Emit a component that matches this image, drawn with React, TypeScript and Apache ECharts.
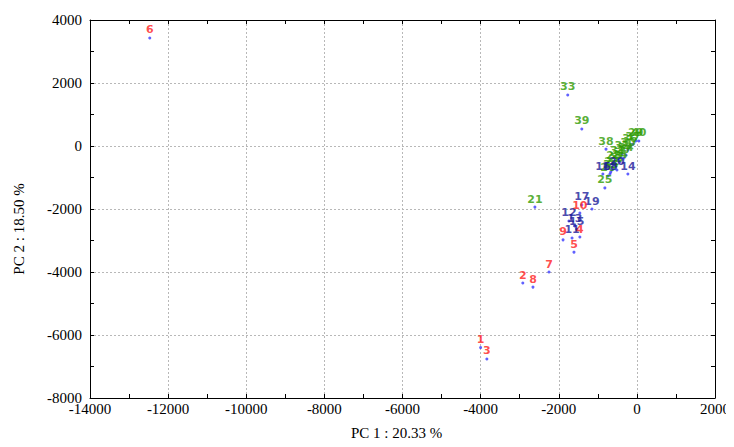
import React, { useEffect, useRef } from "react";
import * as echarts from "echarts";

// Samples 1-10 (red)
const redIds = ["1", "2", "3", "4", "5", "6", "7", "8", "9", "10"];
const redPC1 = [-4000, -2920, -3840, -1460, -1610, -12470, -2250, -2660, -1890, -1460];
const redPC2 = [-6400, -4350, -6760, -2890, -3370, 3430, -4000, -4480, -2980, -2130];

// Samples 11-20 (blue)
const blueIds = ["11", "12", "13", "14", "15", "16", "17", "18", "19", "20"];
const bluePC1 = [-1660, -1740, -1590, -230, -1540, -870, -1410, -690, -1150, -510];
const bluePC2 = [-2920, -2380, -2540, -890, -2640, -890, -1870, -890, -2000, -760];

// Samples 21-40 (green)
const greenIds = ["21", "22", "23", "24", "25", "26", "27", "28", "29", "30",
  "31", "32", "33", "34", "35", "36", "37", "38", "39", "40"];
const greenPC1 = [-2610, -640, -540, -435, -820, -740, -330, -590, -30, -230,
  -490, -380, -1770, -280, -670, -180, -100, -790, -1410, 50];
const greenPC2 = [-1940, -760, -635, -510, -1330, -950, -380, -570, 160, -130,
  -410, -250, 1620, -290, -830, -30, 60, -100, 540, 160];

const xTicks = { min: -14000, max: 2000, step: 2000 };
const yTicks = { min: -8000, max: 4000, step: 2000 };

function build(ids: string[], xs: number[], ys: number[]) {
  return ids.map((id, i) => ({ value: [xs[i], ys[i]], name: id }));
}

export default function App() {
  const ref = useRef<HTMLDivElement>(null);
  useEffect(() => {
    if (!ref.current) return;
    const chart = echarts.init(ref.current, undefined, { renderer: "svg" });
    const serif = "'Liberation Serif', 'Times New Roman', serif";
    const labelFont = "'DejaVu Sans', Verdana, sans-serif";
    const plain = (v: number) => String(v);
    const gridLine = { show: true, lineStyle: { color: "#b8b8b8", type: [2, 2], width: 1, opacity: 1 } };
    const common = {
      axisLine: { show: true, onZero: false, lineStyle: { color: "#000", width: 1 } },
      axisTick: { show: true, inside: true, length: 4, lineStyle: { color: "#000" } },
      minorTick: { show: true, splitNumber: 2, length: 4, lineStyle: { color: "#000" } },
    };
    const mkSeries = (name: string, data: any[], color: string) => ({
      name,
      type: "scatter",
      symbolSize: 3,
      itemStyle: { color: "#3a3aff" },
      data,
      z: 3,
      label: {
        show: true,
        position: "top",
        distance: 1,
        formatter: "{b}",
        color,
        fontFamily: labelFont,
        fontSize: 11,
        fontWeight: "bold",
      },
    });
    chart.setOption({
      animation: false,
      grid: { left: 90, right: 19, top: 20, bottom: 49 },
      xAxis: [
        {
          type: "value",
          position: "bottom",
          min: xTicks.min,
          max: xTicks.max,
          interval: xTicks.step,
          name: "PC 1 : 20.33 %",
          nameLocation: "middle",
          nameGap: 27,
          nameTextStyle: { color: "#000", fontFamily: serif, fontSize: 15, padding: [0, 12, 0, 0] },
          ...common,
          splitLine: gridLine,
          axisLabel: { color: "#000", fontFamily: serif, fontSize: 15, margin: 3, formatter: plain },
        },
        {
          type: "value",
          position: "top",
          min: xTicks.min,
          max: xTicks.max,
          interval: xTicks.step,
          ...common,
          splitLine: { show: false },
          axisLabel: { show: false },
        },
      ],
      yAxis: [
        {
          type: "value",
          position: "left",
          min: yTicks.min,
          max: yTicks.max,
          interval: yTicks.step,
          name: "PC 2 : 18.50 %",
          nameLocation: "middle",
          nameGap: 64,
          nameTextStyle: { color: "#000", fontFamily: serif, fontSize: 15, padding: [0, 40, 0, 0] },
          ...common,
          splitLine: gridLine,
          axisLabel: { color: "#000", fontFamily: serif, fontSize: 15, margin: 8, formatter: plain },
        },
        {
          type: "value",
          position: "right",
          min: yTicks.min,
          max: yTicks.max,
          interval: yTicks.step,
          ...common,
          splitLine: { show: false },
          axisLabel: { show: false },
        },
      ],
      series: [
        mkSeries("green", build(greenIds, greenPC1, greenPC2), "#2e9a00"),
        mkSeries("blue", build(blueIds, bluePC1, bluePC2), "#1a1a9a"),
        mkSeries("red", build(redIds, redPC1, redPC2), "#ff2020"),
      ],
    });
    return () => chart.dispose();
  }, []);
  return <div ref={ref} style={{ width: 734, height: 447, margin: -8 }} />;
}
